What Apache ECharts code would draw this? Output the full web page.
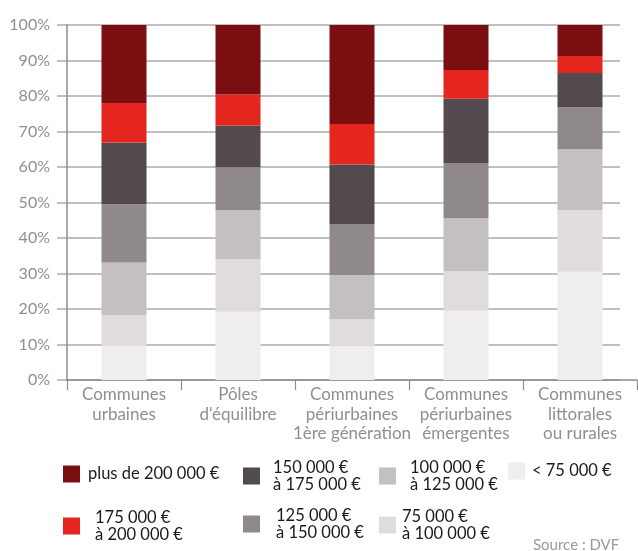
<!DOCTYPE html>
<html>
<head>
<meta charset="utf-8">
<script src="https://cdn.jsdelivr.net/npm/echarts@6/dist/echarts.min.js"></script>
<style>
  html, body { margin: 0; padding: 0; background: #fff; }
  #chart { width: 638px; height: 551px; }
</style>
</head>
<body>
<div id="chart"></div>
<script>
// Types de communes (axe des catégories)
const categories = [
  'Communes\nurbaines',
  'Pôles\nd\'équilibre',
  'Communes\npériurbaines\n1ère génération',
  'Communes\npériurbaines\némergentes',
  'Communes\nlittorales\nou rurales'
];

// Répartition des transactions par tranche de prix (%)
const under75 = [9.6, 19.2, 9.7, 19.5, 30.5];
const from75to100 = [8.7, 14.8, 7.5, 11.2, 17.4];
const from100to125 = [14.8, 13.8, 12.4, 14.9, 17.1];
const from125to150 = [16.4, 12.1, 14.2, 15.5, 11.8];
const from150to175 = [17.4, 11.8, 16.9, 18.1, 9.7];
const from175to200 = [11.1, 8.7, 11.4, 8.1, 4.8];
const over200 = [22.0, 19.6, 27.9, 12.7, 8.7];

// Noms des tranches (ordre d'empilement, du bas vers le haut)
const bandNames = [
  '< 75 000 €',
  '75 000 € à 100 000 €',
  '100 000 € à 125 000 €',
  '125 000 € à 150 000 €',
  '150 000 € à 175 000 €',
  '175 000 € à 200 000 €',
  'plus de 200 000 €'
];
const bandLabels = [
  '< 75 000 €',
  '75 000 €\nà 100 000 €',
  '100 000 €\nà 125 000 €',
  '125 000 €\nà 150 000 €',
  '150 000 €\nà 175 000 €',
  '175 000 €\nà 200 000 €',
  'plus de 200 000 €'
];
const bandValues = [under75, from75to100, from100to125, from125to150, from150to175, from175to200, over200];
const bandColors = ['#efedee', '#e0dcde', '#c4bfc2', '#8f898c', '#524a4e', '#e5261e', '#7a0e11'];

// Ticks de l'axe vertical
const yMin = 0, yMax = 100, yStep = 10;

const FONT = 'Lato';

// Position de chaque entrée de légende : [left, top, décalage du texte, texte sur une ligne]
const legendSlots = [
  [508, 457, 2, true],    // < 75 000 €
  [379, 508, 1, false],   // 75 000 € à 100 000 €
  [379, 459, 9, false],   // 100 000 € à 125 000 €
  [243, 507, 11, false],  // 125 000 € à 150 000 €
  [243, 459, 8, false],   // 150 000 € à 175 000 €
  [63, 509, 10, false],   // 175 000 € à 200 000 €
  [63, 460, 3, true]      // plus de 200 000 €
];

const legends = bandNames.map((name, i) => {
  const [left, top, pad, single] = legendSlots[i];
  return {
    left: left,
    top: top,
    padding: 0,
    orient: 'horizontal',
    selectedMode: false,
    itemWidth: 17,
    itemHeight: 17,
    icon: 'rect',
    data: [name],
    formatter: () => bandLabels[i],
    textStyle: {
      fontFamily: FONT,
      fontSize: 16.5,
      color: '#1a1a1a',
      lineHeight: 17,
      padding: single ? [0, 0, 11, pad] : [0, 0, 0, pad]
    }
  };
});

const series = bandNames.map((name, i) => ({
  name: name,
  type: 'bar',
  stack: 'total',
  xAxisIndex: 0,
  yAxisIndex: 0,
  barWidth: 45,
  itemStyle: { color: bandColors[i] },
  emphasis: { disabled: true },
  data: bandValues[i]
}));

// Série vide servant à porter la grille de fond
series.push({
  type: 'line',
  xAxisIndex: 1,
  yAxisIndex: 1,
  data: [],
  silent: true
});

const option = {
  animation: false,
  backgroundColor: '#fff',
  grid: [
    { left: 67, right: 1, top: 25, bottom: 171 },
    { left: 57, right: 18, top: 25, bottom: 171 }
  ],
  xAxis: [
    {
      type: 'category',
      gridIndex: 0,
      data: categories,
      axisLine: { lineStyle: { color: '#8c8c8c', width: 1.5 } },
      axisTick: { show: true, length: 10, interval: 0, lineStyle: { color: '#8c8c8c', width: 1.2 } },
      axisLabel: {
        interval: 0,
        margin: 5,
        fontFamily: FONT,
        fontSize: 17,
        lineHeight: 19.5,
        color: '#8f8f8f'
      }
    },
    {
      type: 'value',
      gridIndex: 1,
      show: false,
      min: 0,
      max: 1
    }
  ],
  yAxis: [
    {
      type: 'value',
      gridIndex: 0,
      min: yMin,
      max: yMax,
      interval: yStep,
      axisLine: { show: true, lineStyle: { color: '#8c8c8c', width: 1.5 } },
      axisTick: { show: false },
      axisLabel: { show: false },
      splitLine: { show: false }
    },
    {
      type: 'value',
      gridIndex: 1,
      min: yMin,
      max: yMax,
      interval: yStep,
      axisLine: { show: false },
      axisTick: { show: false },
      axisLabel: {
        margin: 7,
        fontFamily: FONT,
        fontSize: 16,
        color: '#8f8f8f',
        formatter: '{value}%'
      },
      splitLine: { show: true, lineStyle: { color: '#ababab', width: 1.5 } }
    }
  ],
  legend: legends,
  graphic: [
    {
      type: 'text',
      left: 533,
      top: 538,
      style: {
        text: 'Source : DVF',
        fontFamily: FONT,
        fontSize: 15,
        fill: '#999'
      }
    }
  ],
  series: series
};

const chart = echarts.init(document.getElementById('chart'), null, { renderer: 'canvas' });
chart.setOption(option);
</script>
</body>
</html>
